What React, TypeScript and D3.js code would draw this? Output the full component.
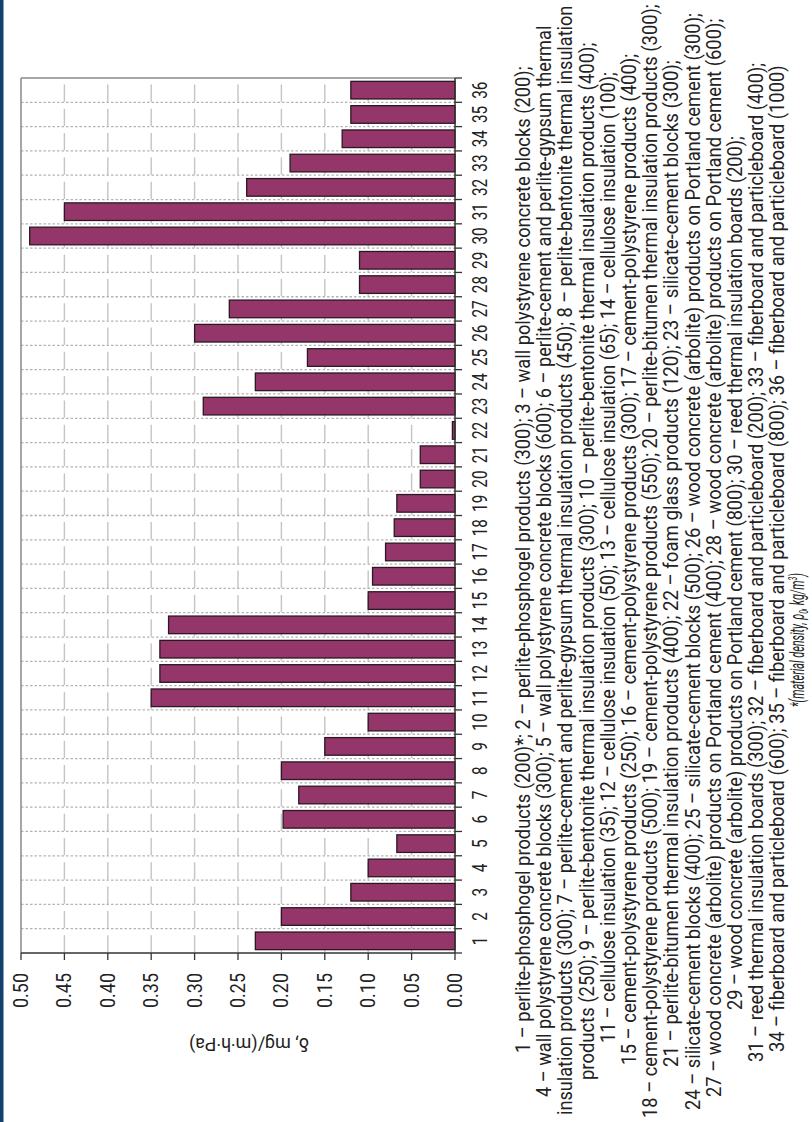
import React, { useLayoutEffect, useRef, useState } from "react";
import * as d3 from "d3";

// Material numbers (1–36) along the category axis
const categories = [
  "1", "2", "3", "4", "5", "6", "7", "8", "9", "10", "11", "12",
  "13", "14", "15", "16", "17", "18", "19", "20", "21", "22", "23", "24",
  "25", "26", "27", "28", "29", "30", "31", "32", "33", "34", "35", "36",
];

// Vapour permeability δ, mg/(m·h·Pa)
const permeability = [
  0.23, 0.2, 0.12, 0.1, 0.067, 0.198, 0.18, 0.2, 0.15, 0.1, 0.35, 0.34,
  0.34, 0.33, 0.1, 0.095, 0.08, 0.07, 0.067, 0.04, 0.04, 0.003, 0.29, 0.23,
  0.17, 0.3, 0.26, 0.11, 0.11, 0.49, 0.45, 0.24, 0.19, 0.13, 0.12, 0.12,
];

const valueTicks = [0, 0.05, 0.1, 0.15, 0.2, 0.25, 0.3, 0.35, 0.4, 0.45, 0.5];
const valueTitle = "δ, mg/(m·h·Pa)";

const captionLines = [
  "1 – perlite-phosphogel products (200)*; 2 – perlite-phosphogel products (300); 3 – wall polystyrene concrete blocks (200);",
  "4 – wall polystyrene concrete blocks (300); 5 – wall polystyrene concrete blocks (600); 6 – perlite-cement and perlite-gypsum thermal",
  "insulation products (300); 7 – perlite-cement and perlite-gypsum thermal insulation products (450); 8 – perlite-bentonite thermal insulation",
  "products (250); 9 – perlite-bentonite thermal insulation products (300); 10 – perlite-bentonite thermal insulation products (400);",
  "11 – cellulose insulation (35); 12 – cellulose insulation (50); 13 – cellulose insulation (65); 14 – cellulose insulation (100);",
  "15 – cement-polystyrene products (250); 16 – cement-polystyrene products (300); 17 – cement-polystyrene products (400);",
  "18 – cement-polystyrene products (500); 19 – cement-polystyrene products (550); 20 – perlite-bitumen thermal insulation products (300);",
  "21 – perlite-bitumen thermal insulation products (400); 22 – foam glass products (120); 23 – silicate-cement blocks (300);",
  "24 – silicate-cement blocks (400); 25 – silicate-cement blocks (500); 26 – wood concrete (arbolite) products on Portland cement (300);",
  "27 – wood concrete (arbolite) products on Portland cement (400); 28 – wood concrete (arbolite) products on Portland cement (600);",
  "29 – wood concrete (arbolite) products on Portland cement (800); 30 – reed thermal insulation boards (200);",
  "31 – reed thermal insulation boards (300); 32 – fiberboard and particleboard (200); 33 – fiberboard and particleboard (400);",
  "34 – fiberboard and particleboard (600); 35 – fiberboard and particleboard (800); 36 – fiberboard and particleboard (1000)",
];

// Layout: the whole figure is laid out in a frame turned a quarter turn
// counter-clockwise, so the frame is H wide and W tall.
const W = 812;
const H = 1122;
const FONT = "Roboto, 'Liberation Sans', Arial, sans-serif";

const plot = { left: 169, right: 1044, top: 21, bottom: 455 };

// start position and rendered length of each caption line (frame units);
// the last entry is the density footnote
const captionStart = [69, 25, 7, 42, 79, 57, 4, 55, 12, 25, 112, 60, 70, 415];
const captionLength = [987, 1072, 1110, 1038, 971, 1012, 1114, 1007, 1098, 1079, 875, 1000, 987, 134];
const captionBaseline0 = 530;
const captionLeading = 21.2;

export default function App() {
  const x = d3
    .scaleBand<string>()
    .domain(categories)
    .range([plot.left, plot.right])
    .paddingInner(0.275)
    .paddingOuter(0.1375);
  const y = d3.scaleLinear().domain([0, 0.5]).range([plot.bottom, plot.top]);

  const step = x.step();
  const bandEdges = d3.range(categories.length + 1).map((i) => plot.left + i * step);
  const innerTicks = valueTicks.filter((t) => t > 0 && t < 0.5);
  const fmt = d3.format(".2f");

  // caption lines are set in a regular face and squeezed horizontally
  // to the narrow width of the column
  const lineRefs = useRef<(SVGTextElement | null)[]>([]);
  const [natural, setNatural] = useState<number[] | null>(null);
  useLayoutEffect(() => {
    setNatural(lineRefs.current.map((el) => (el ? el.getComputedTextLength() : 1)));
  }, []);
  const lineTransform = (i: number, baseline: number) => {
    const k = natural ? captionLength[i] / natural[i] : 1;
    return `translate(${captionStart[i]},${baseline}) scale(${k},1)`;
  };

  return (
    <svg
      width={W}
      height={H}
      style={{ position: "absolute", left: 0, top: 0, background: "#fff" }}
      fontFamily={FONT}
    >
      <rect x={0} y={0} width={W} height={H} fill="#fff" />
      <rect x={0} y={0} width={3.5} height={H} fill="#12406c" />

      <g transform={`translate(0,${H}) rotate(-90)`}>
        {/* value gridlines, broken at each category band */}
        <g stroke="#c4c4c4" strokeWidth={1.4}>
          {innerTicks.map((t) =>
            categories.map((c, i) => (
              <line
                key={`g${t}-${c}`}
                x1={bandEdges[i] + 0.5}
                x2={bandEdges[i + 1] - 6.5}
                y1={y(t)}
                y2={y(t)}
              />
            ))
          )}
        </g>

        {/* dashed category separators */}
        <g stroke="#b4b4b4" strokeWidth={1.3} strokeDasharray="2.5 2">
          {bandEdges.slice(1, -1).map((e, i) => (
            <line key={`d${i}`} x1={e} x2={e} y1={plot.top} y2={plot.bottom} />
          ))}
        </g>

        {/* plot frame */}
        <line x1={plot.left} x2={plot.right} y1={plot.top} y2={plot.top} stroke="#8a8a8a" strokeWidth={1.5} />
        <line x1={plot.right} x2={plot.right} y1={plot.top} y2={plot.bottom} stroke="#8a8a8a" strokeWidth={1.5} />

        {/* bars */}
        <g fill="#94366a" stroke="#2b1822" strokeWidth={1.3}>
          {categories.map((c, i) => (
            <rect
              key={`b${c}`}
              x={x(c)}
              y={y(permeability[i])}
              width={x.bandwidth()}
              height={plot.bottom - y(permeability[i])}
            />
          ))}
        </g>

        {/* axes */}
        <line x1={plot.left} x2={plot.right} y1={plot.bottom} y2={plot.bottom} stroke="#333" strokeWidth={1.5} />
        <line x1={plot.left} x2={plot.left} y1={plot.top} y2={plot.bottom} stroke="#333" strokeWidth={1.5} />
        <g stroke="#333" strokeWidth={1.3}>
          {bandEdges.map((e, i) => (
            <line key={`xt${i}`} x1={e} x2={e} y1={plot.bottom} y2={plot.bottom + 7} />
          ))}
          {valueTicks.map((t) => (
            <line key={`yt${t}`} x1={plot.left - 7} x2={plot.left} y1={y(t)} y2={y(t)} />
          ))}
        </g>

        {/* value labels */}
        <g fontSize={21} fill="#222">
          {valueTicks.map((t) => (
            <text
              key={`yl${t}`}
              x={plot.left - 20}
              y={y(t)}
              textAnchor="end"
              dominantBaseline="central"
              textLength={35}
              lengthAdjust="spacingAndGlyphs"
            >
              {fmt(t)}
            </text>
          ))}
        </g>

        {/* category labels */}
        <g fontSize={21} fill="#222">
          {categories.map((c) => (
            <text
              key={`xl${c}`}
              x={(x(c) as number) + x.bandwidth() / 2}
              y={plot.bottom + 32}
              textAnchor="middle"
              textLength={c.length * 8.6}
              lengthAdjust="spacingAndGlyphs"
            >
              {c}
            </text>
          ))}
        </g>

        {/* value axis title */}
        <text
          transform={`translate(84,${(plot.top + plot.bottom) / 2 + 11}) rotate(-90)`}
          textAnchor="middle"
          fontSize={18}
          fill="#222"
          textLength={120}
          lengthAdjust="spacingAndGlyphs"
        >
          {valueTitle}
        </text>

        {/* caption */}
        <g fontSize={20.5} fill="#222">
          {captionLines.map((line, i) => (
            <text
              key={`c${i}`}
              ref={(el) => {
                lineRefs.current[i] = el;
              }}
              transform={lineTransform(i, captionBaseline0 + i * captionLeading)}
            >
              {line}
            </text>
          ))}
          <text
            ref={(el) => {
              lineRefs.current[captionLines.length] = el;
            }}
            transform={lineTransform(
              captionLines.length,
              captionBaseline0 + captionLines.length * captionLeading - 2
            )}
            fontStyle="italic"
          >
            *(material density, ρ
            <tspan fontSize={13} dy={4}>0</tspan>
            <tspan dy={-4}>, kg/m</tspan>
            <tspan fontSize={13} dy={-7}>3</tspan>
            <tspan dy={7}>)</tspan>
          </text>
        </g>
      </g>
    </svg>
  );
}
